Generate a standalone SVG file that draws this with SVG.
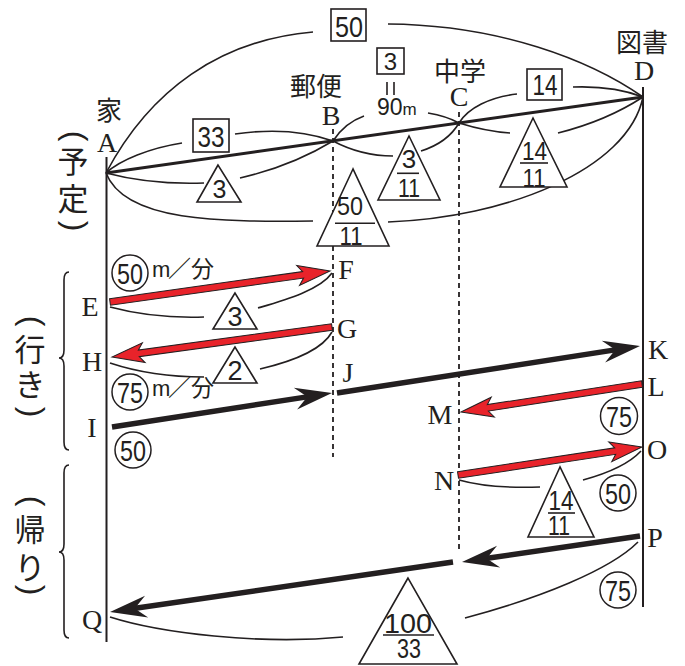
<svg xmlns="http://www.w3.org/2000/svg" width="685" height="666" viewBox="0 0 685 666">
  <defs>
    <style>
      .ln { fill: none; stroke: #231f20; stroke-width: 1.6; }
      .main { fill: none; stroke: #231f20; stroke-width: 3; }
      .axis { fill: none; stroke: #231f20; stroke-width: 2; }
      .dash { fill: none; stroke: #231f20; stroke-width: 1.8; stroke-dasharray: 5 4; }
      .tri { fill: #fff; stroke: #231f20; stroke-width: 1.6; }
      .box { fill: #fff; stroke: #231f20; stroke-width: 1.6; }
      .circ { fill: #fff; stroke: #231f20; stroke-width: 1.5; }
      .shaft { fill: none; stroke: #231f20; stroke-width: 5.5; }
      .red { fill: #e8232a; stroke: #231f20; stroke-width: 1; stroke-linejoin: miter; }
      .head { fill: #231f20; }
      .ser { font-family: "Liberation Serif", "Times New Roman", serif; font-size: 28px; text-anchor: middle; fill: #231f20; }
      .num { font-family: "Liberation Sans", Arial, sans-serif; text-anchor: middle; fill: #231f20; }
      .jp { font-family: "Noto Sans CJK JP", "Noto Sans", sans-serif; fill: #231f20; }
      .v { font-size: 31px; text-anchor: middle; }
      .lab { font-size: 26px; text-anchor: middle; }
      .par { font-family: "Liberation Sans", Arial, sans-serif; font-size: 32px; text-anchor: middle; dominant-baseline: central; fill: #231f20; }
    </style>
    <path id="stealth" d="M0,0 L-37,-11 L-25,0 L-37,11 Z"/>
  </defs>

  <!-- distance arcs -->
  <g id="connectors">
    <!-- planned route -->
    <path class="ln" d="M106,173 C150,90 220,40 313,32"/>
    <path class="ln" d="M388,24 C500,25 590,60 643,97"/>
    <path class="ln" d="M106,173 C120,160 150,148 182,143"/>
    <path class="ln" d="M235,134 C270,129 305,131 333,141"/>
    <path class="ln" d="M106,173 C140,182 175,184 204,183"/>
    <path class="ln" d="M240,178 C275,170 305,158 333,141"/>
    <path class="ln" d="M106,173 C125,222 220,222 313,221"/>
    <path class="ln" d="M388,222 C505,218 628,170 643,97"/>
    <path class="ln" d="M333,141 C340,130 350,121 364,116"/>
    <path class="ln" d="M428,113 C440,115 450,118 459,123"/>
    <path class="ln" d="M333,141 C350,150 370,156 393,156"/>
    <path class="ln" d="M421,151 C440,145 452,135 459,123"/>
    <path class="ln" d="M459,123 C468,108 490,97 517,94"/>
    <path class="ln" d="M573,87 C600,86 625,90 643,97"/>
    <path class="ln" d="M459,123 C475,128 495,132 510,133"/>
    <path class="ln" d="M558,133 C590,125 620,112 643,97"/>
    <!-- going / returning -->
    <path class="ln" d="M110,307 C140,315 175,318 204,317"/>
    <path class="ln" d="M258,308 C285,300 320,290 332,273"/>
    <path class="ln" d="M110,363 C140,373 175,377 204,377"/>
    <path class="ln" d="M260,369 C290,362 322,350 332,332"/>
    <path class="ln" d="M459,480 C480,486 510,488 540,487"/>
    <path class="ln" d="M583,480 C605,474 628,465 641,451"/>
    <path class="ln" d="M110,617 C160,633 260,645 343,637"/>
    <path class="ln" d="M465,618 C540,598 610,570 638,542"/>

    <!-- braces -->
    <path class="ln" d="M69,272 Q64,272 64,280 V350 Q64,358 59,358 Q64,358 64,366 V442 Q64,450 69,450"/>
    <path class="ln" d="M69,465 Q64,465 64,473 V544 Q64,552 59,552 Q64,552 64,560 V630 Q64,638 69,638"/>

    <!-- axes -->
    <path class="axis" d="M106.5,157 V642"/>
    <path class="axis" d="M643,87 V607"/>
    <path class="dash" d="M333,129 V457"/>
    <path class="dash" d="M459,112 V550"/>
    <path class="main" d="M106,173 L643,97"/>

    <!-- black arrows -->
    <path class="shaft" d="M112,427 L310.3,396.4"/>
    <use href="#stealth" class="head" transform="translate(332,393) rotate(-8.78)"/>
    <path class="shaft" d="M337,393 L618.3,349.4"/>
    <use href="#stealth" class="head" transform="translate(640,346) rotate(-8.82)"/>
    <path class="shaft" d="M640,536 L483.8,558.8"/>
    <use href="#stealth" class="head" transform="translate(462,562) rotate(171.69)"/>
    <path class="shaft" d="M453,562 L131.8,608.8"/>
    <use href="#stealth" class="head" transform="translate(110,612) rotate(171.72)"/>

    <!-- red arrows -->
    <path class="red" transform="translate(110,302) rotate(-8.02)" d="M0,-3.3 H195 L190,-10 L222.2,0 L190,10 L195,3.3 H0 Z"/>
    <path class="red" transform="translate(332,327) rotate(172.23)" d="M0,-3.3 H195 L190,-10 L222,0 L190,10 L195,3.3 H0 Z"/>
    <path class="red" transform="translate(642,384) rotate(171.2)" d="M0,-3.3 H156 L151,-10 L183.2,0 L151,10 L156,3.3 H0 Z"/>
    <path class="red" transform="translate(458,475) rotate(-8.65)" d="M0,-3.3 H159 L154,-10 L186.1,0 L154,10 L159,3.3 H0 Z"/>
  </g>

  <!-- point labels -->
  <g id="points">
    <text class="ser" x="107" y="152">A</text>
    <text class="ser" x="331" y="125">B</text>
    <text class="ser" x="459" y="106">C</text>
    <text class="ser" x="644" y="80">D</text>
    <text class="ser" x="90" y="316">E</text>
    <text class="ser" x="346" y="279">F</text>
    <text class="ser" x="347" y="338">G</text>
    <text class="ser" x="92" y="371">H</text>
    <text class="ser" x="92" y="437">I</text>
    <text class="ser" x="348" y="382">J</text>
    <text class="ser" x="658" y="359">K</text>
    <text class="ser" x="656" y="396">L</text>
    <text class="ser" x="440" y="424">M</text>
    <text class="ser" x="444" y="490">N</text>
    <text class="ser" x="657" y="459">O</text>
    <text class="ser" x="655" y="547">P</text>
    <text class="ser" x="92" y="629">Q</text>
  </g>

  <!-- place names -->
  <g id="places">
    <text class="jp lab" x="109" y="120">家</text>
    <text class="jp lab" x="316" y="96">郵便</text>
    <text class="jp lab" x="460" y="81">中学</text>
    <text class="jp lab" x="642" y="52">図書</text>
  </g>

  <!-- section titles, set vertically; the brackets are turned a quarter -->
  <g id="title-plan">
    <text class="par" transform="translate(76,136) rotate(90)">(</text>
    <text class="jp v" x="73" y="173">予</text>
    <text class="jp v" x="73" y="210">定</text>
    <text class="par" transform="translate(76,226) rotate(90)">)</text>
  </g>
  <g id="title-going">
    <text class="par" transform="translate(33,321) rotate(90)">(</text>
    <text class="jp v" x="30" y="361">行</text>
    <text class="jp v" x="30" y="396">き</text>
    <text class="par" transform="translate(33,412) rotate(90)">)</text>
  </g>
  <g id="title-return">
    <text class="par" transform="translate(33,501) rotate(90)">(</text>
    <text class="jp v" x="30" y="541">帰</text>
    <text class="jp v" x="30" y="579">り</text>
    <text class="par" transform="translate(33,590) rotate(90)">)</text>
  </g>

  <!-- boxed ratios -->
  <g id="box-50">
    <rect class="box" x="331" y="9" width="35" height="32"/>
    <text class="num" x="349" y="37" font-size="30" textLength="28" lengthAdjust="spacingAndGlyphs">50</text>
  </g>
  <g id="box-3">
    <rect class="box" x="377" y="48" width="27" height="26"/>
    <text class="num" x="390.5" y="70" font-size="24">3</text>
    <path class="ln" d="M387,82 V95 M394,82 V95"/>
    <text class="num" x="377" y="115" style="text-anchor:start"><tspan font-size="23">90</tspan><tspan font-size="17">m</tspan></text>
  </g>
  <g id="box-33">
    <rect class="box" x="193" y="119" width="36" height="33"/>
    <text class="num" x="211" y="147" font-size="30" textLength="27" lengthAdjust="spacingAndGlyphs">33</text>
  </g>
  <g id="box-14">
    <rect class="box" x="527" y="69" width="35" height="31"/>
    <text class="num" x="545" y="95" font-size="30" textLength="25" lengthAdjust="spacingAndGlyphs">14</text>
  </g>

  <!-- triangle ratios -->
  <g id="tri-3a">
    <polygon class="tri" points="218,165 197,202 241,202"/>
    <text class="num" x="219.5" y="198" font-size="25">3</text>
  </g>
  <g id="tri-50-11">
    <polygon class="tri" points="353,169 317,246 389,246"/>
    <text class="num" x="350" y="215" font-size="26" textLength="26" lengthAdjust="spacingAndGlyphs">50</text>
    <path class="ln" d="M335,223.3 H375"/>
    <text class="num" x="351" y="245" font-size="26" textLength="23" lengthAdjust="spacingAndGlyphs">11</text>
  </g>
  <g id="tri-3-11">
    <polygon class="tri" points="409,136 378,200 440,200"/>
    <text class="num" x="409" y="168" font-size="26">3</text>
    <path class="ln" d="M397,173.3 H419"/>
    <text class="num" x="409" y="197" font-size="26" textLength="22" lengthAdjust="spacingAndGlyphs">11</text>
  </g>
  <g id="tri-14-11a">
    <polygon class="tri" points="533,118 500,187 567,187"/>
    <text class="num" x="534.5" y="160" font-size="26" textLength="25" lengthAdjust="spacingAndGlyphs">14</text>
    <path class="ln" d="M520,163 H548"/>
    <text class="num" x="534" y="186.5" font-size="26" textLength="23" lengthAdjust="spacingAndGlyphs">11</text>
  </g>
  <g id="tri-3b">
    <polygon class="tri" points="235,293 213,329 257,329"/>
    <text class="num" x="235" y="326" font-size="27">3</text>
  </g>
  <g id="tri-2">
    <polygon class="tri" points="235,347 213,383 257,383"/>
    <text class="num" x="235" y="380" font-size="27">2</text>
  </g>
  <g id="tri-14-11b">
    <polygon class="tri" points="560,467 528,537 594,537"/>
    <text class="num" x="561" y="510" font-size="28" textLength="25" lengthAdjust="spacingAndGlyphs">14</text>
    <path class="ln" d="M548,513 H575"/>
    <text class="num" x="559" y="535" font-size="28" textLength="22" lengthAdjust="spacingAndGlyphs">11</text>
  </g>
  <g id="tri-100-33">
    <polygon class="tri" points="408,578 359,664 457,664"/>
    <text class="num" x="408" y="633" font-size="28" textLength="48" lengthAdjust="spacingAndGlyphs">100</text>
    <path class="ln" d="M383,635 H434"/>
    <text class="num" x="409" y="658" font-size="28" textLength="24" lengthAdjust="spacingAndGlyphs">33</text>
  </g>

  <!-- circled speeds -->
  <g id="speed-50">
    <circle class="circ" cx="130" cy="273" r="18"/>
    <text class="num" x="130" y="284" font-size="29" textLength="26" lengthAdjust="spacingAndGlyphs">50</text>
    <text class="num" x="152" y="277" font-size="22" style="text-anchor:start">m</text>
    <text class="jp" x="168" y="277" font-size="23">／分</text>
  </g>
  <g id="speed-75">
    <circle class="circ" cx="130" cy="392" r="18"/>
    <text class="num" x="130" y="403" font-size="29" textLength="26" lengthAdjust="spacingAndGlyphs">75</text>
    <text class="num" x="152" y="396" font-size="22" style="text-anchor:start">m</text>
    <text class="jp" x="168" y="396" font-size="23">／分</text>
  </g>
  <g id="circle-50-I">
    <circle class="circ" cx="133" cy="450" r="18"/>
    <text class="num" x="133" y="461" font-size="29" textLength="26" lengthAdjust="spacingAndGlyphs">50</text>
  </g>
  <g id="circle-75-L">
    <circle class="circ" cx="619" cy="416" r="18.5"/>
    <text class="num" x="619" y="427" font-size="29" textLength="26" lengthAdjust="spacingAndGlyphs">75</text>
  </g>
  <g id="circle-50-O">
    <circle class="circ" cx="618" cy="493" r="18"/>
    <text class="num" x="618" y="504" font-size="29" textLength="26" lengthAdjust="spacingAndGlyphs">50</text>
  </g>
  <g id="circle-75-P">
    <circle class="circ" cx="618" cy="590" r="18"/>
    <text class="num" x="618" y="601" font-size="29" textLength="26" lengthAdjust="spacingAndGlyphs">75</text>
  </g>
</svg>
